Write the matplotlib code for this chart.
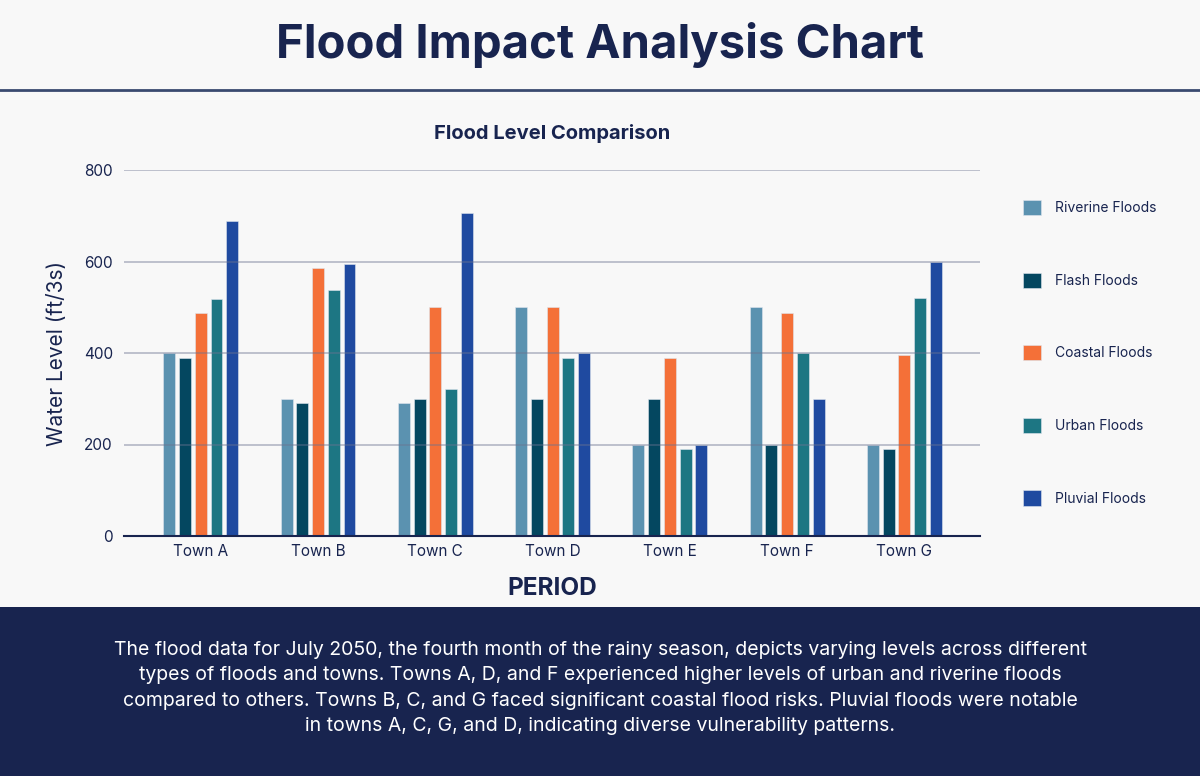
import numpy as np
import matplotlib.pyplot as plt
from matplotlib.patches import Rectangle
from matplotlib.lines import Line2D

towns = ['Town A', 'Town B', 'Town C', 'Town D', 'Town E', 'Town F', 'Town G']
riverine = [400, 300, 290, 500, 200, 500, 200]
flash = [390, 290, 300, 300, 300, 200, 190]
coastal = [488, 586, 500, 500, 390, 488, 395]
urban = [517, 538, 322, 390, 190, 400, 521]
pluvial = [688, 595, 707, 400, 200, 300, 600]

series = [riverine, flash, coastal, urban, pluvial]
names = ['Riverine Floods', 'Flash Floods', 'Coastal Floods', 'Urban Floods', 'Pluvial Floods']
colors = ['#5b92b0', '#044760', '#f47038', '#1d7683', '#1f4aa0']

navy = '#18244f'
bg = '#f8f8f8'

plt.rcParams['font.family'] = ['Inter', 'DejaVu Sans']

fig = plt.figure(figsize=(12, 7.76), dpi=100, facecolor=bg)

# header and footer
fig.text(0.5, 1 - 45 / 776, 'Flood Impact Analysis Chart', ha='center', va='center',
         fontsize=34, fontweight='bold', color=navy)
fig.add_artist(Line2D([0, 1], [1 - 90 / 776, 1 - 90 / 776], color='#3a4a70', lw=2))
fig.add_artist(Rectangle((0, 0), 1, 1 - 607 / 776, transform=fig.transFigure,
                         facecolor=navy, edgecolor='none', zorder=0))
footer = ('The flood data for July 2050, the fourth month of the rainy season, depicts varying levels across different\n'
          'types of floods and towns. Towns A, D, and F experienced higher levels of urban and riverine floods\n'
          'compared to others. Towns B, C, and G faced significant coastal flood risks. Pluvial floods were notable\n'
          'in towns A, C, G, and D, indicating diverse vulnerability patterns.')
fig.text(0.5, 1 - 688 / 776, footer, ha='center', va='center', fontsize=14,
         color='white', linespacing=1.52)

ax = fig.add_axes([124 / 1200, 1 - 536 / 776, 856 / 1200, 366 / 776])
ax.set_facecolor(bg)

x = np.arange(len(towns))
pitch = 0.134
width = 0.102
for i, (vals, name, c) in enumerate(zip(series, names, colors)):
    ax.bar(x + (i - 2) * pitch, vals, width, color=c, label=name,
           edgecolor='#dfe6ee', linewidth=0.4, zorder=2)

ax.set_xlim(-0.655, 6.645)
ax.set_ylim(0, 800)
ax.set_yticks([0, 200, 400, 600, 800])
ax.set_xticks(x)
ax.set_xticklabels(towns)
ax.tick_params(axis='both', length=0, labelsize=11, colors=navy, pad=8)
ax.tick_params(axis='x', pad=6)
ax.yaxis.grid(True, color='#6b7390', alpha=0.45, lw=1.3, zorder=3)
ax.set_axisbelow(False)
for s in ['top', 'right', 'left']:
    ax.spines[s].set_visible(False)
ax.spines['bottom'].set_color(navy)
ax.spines['bottom'].set_linewidth(1.5)
ax.spines['bottom'].set_zorder(4)

ax.set_title('Flood Level Comparison', fontsize=14.5, fontweight='bold', color=navy, pad=22)
ax.set_xlabel('PERIOD', fontsize=17.5, fontweight='bold', color=navy, labelpad=13)
ax.set_ylabel('Water Level (ft/3s)', fontsize=15, color=navy, labelpad=12)

leg = ax.legend(loc='upper left', bbox_to_anchor=(1.036, 0.952), frameon=False,
                handlelength=1.3, handleheight=1.3, labelspacing=4.13,
                handletextpad=1.0, fontsize=10)
for t in leg.get_texts():
    t.set_color(navy)

fig.savefig('out.png', dpi=100, facecolor=bg)
